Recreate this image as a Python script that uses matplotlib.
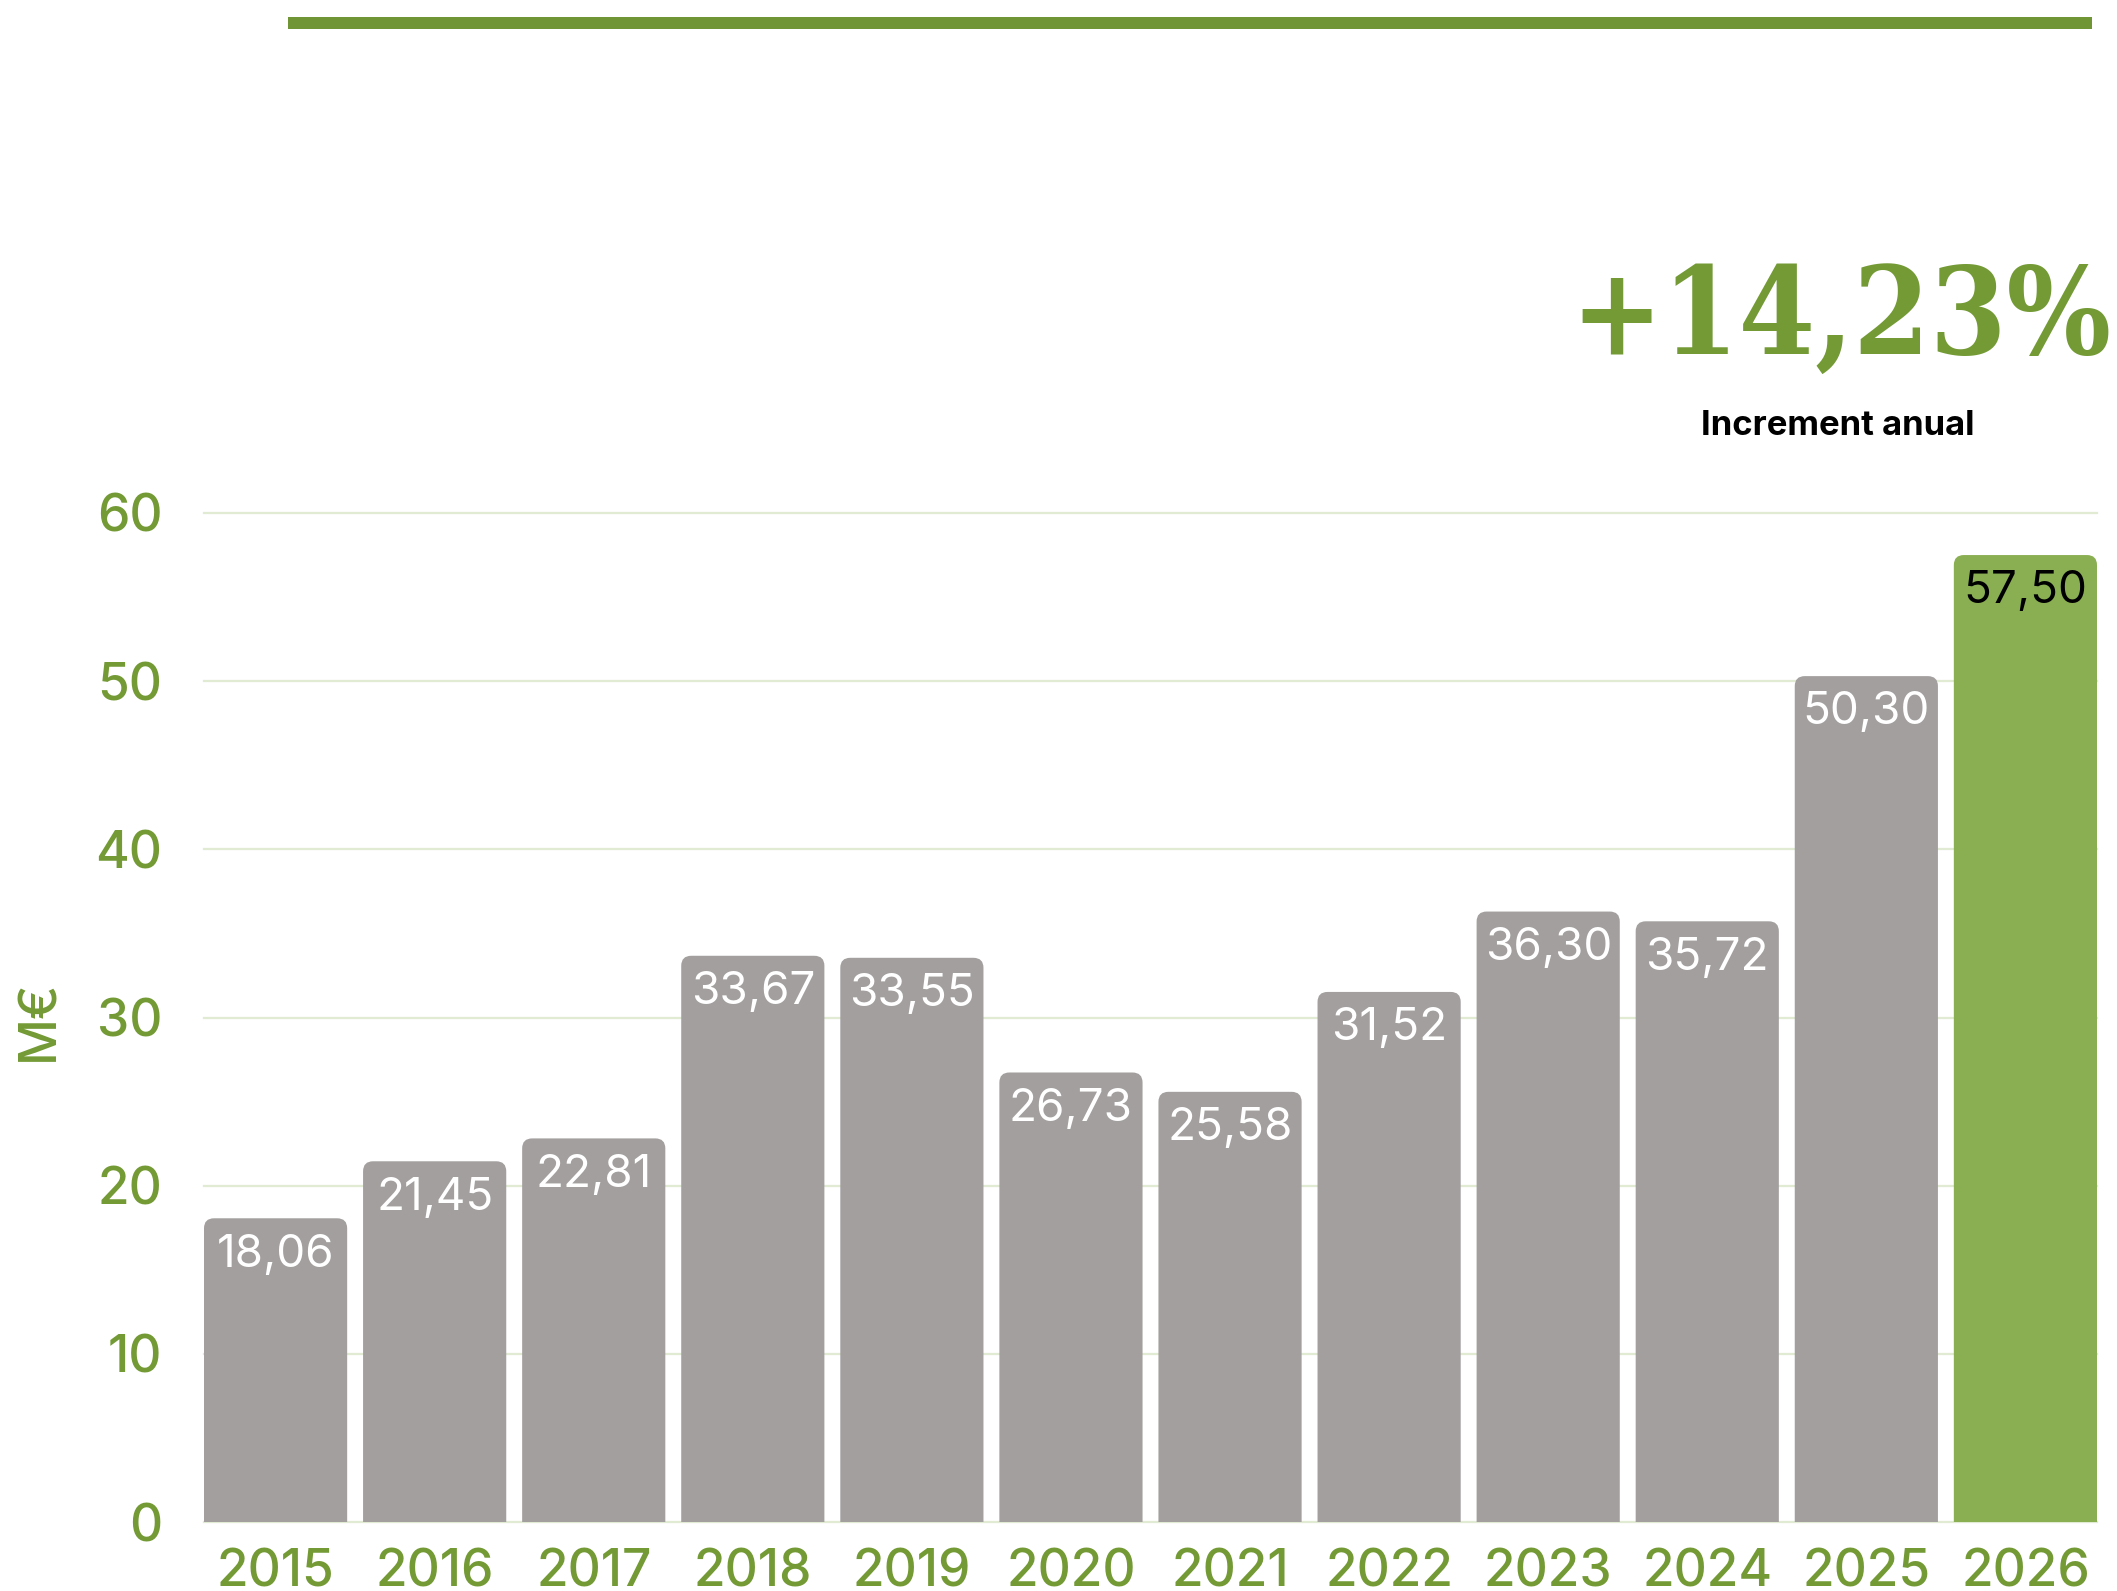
import matplotlib
matplotlib.use("Agg")
import matplotlib.pyplot as plt
from matplotlib.patches import FancyBboxPatch
from matplotlib.lines import Line2D

years = ["2015", "2016", "2017", "2018", "2019", "2020", "2021", "2022", "2023", "2024", "2025", "2026"]
values = [18.06, 21.45, 22.81, 33.67, 33.55, 26.73, 25.58, 31.52, 36.30, 35.72, 50.30, 57.50]
value_labels = ["18,06", "21,45", "22,81", "33,67", "33,55", "26,73", "25,58", "31,52", "36,30", "35,72", "50,30", "57,50"]
y_ticks = [0, 10, 20, 30, 40, 50, 60]
headline = "+14,23%"
subtitle = "Increment anual"
y_label = "M€"

GRAY = "#A29F9E"
GREEN_BAR = "#8AAF53"
GREEN_TXT = "#739A35"
GRID = "#E1EAD3"

W, H = 2117, 1591
fig = plt.figure(figsize=(W / 100, H / 100), dpi=100)
fig.patch.set_facecolor("white")

left, right = 204 / W, 2097 / W
bottom, top = 1 - 1522 / H, 1 - 513 / H
ax = fig.add_axes([left, bottom, right - left, top - bottom])

x = list(range(len(years)))
bars = ax.bar(x, values, width=0.9, color=GRAY, zorder=2)
colors = [GRAY] * (len(years) - 1) + [GREEN_BAR]

# rounded corners
px_per_x = (2097 - 204) / 11.9
px_per_y = (1522 - 513) / 60
r_px = 10
rx = r_px / px_per_x
ry = r_px / px_per_y
for b, c in zip(bars, colors):
    b.set_visible(False)
    bx, bw, bh = b.get_x(), b.get_width(), b.get_height()
    p = FancyBboxPatch((bx, -3), bw, bh + 3,
                       boxstyle=f"round,pad=0,rounding_size={rx}",
                       mutation_aspect=ry / rx, facecolor=c, edgecolor="none", zorder=2)
    ax.add_patch(p)

for i, (v, lab) in enumerate(zip(values, value_labels)):
    col = "black" if i == len(values) - 1 else "white"
    ax.annotate(lab, (i, v), xytext=(0, -11), textcoords="offset points",
                ha="center", va="top", fontsize=33, color=col,
                family="Inter", zorder=3)

ax.set_xlim(-0.45, 11.45)
ax.set_ylim(0, 60)
ax.set_yticks(y_ticks)
ax.set_yticklabels([str(t) for t in y_ticks])
ax.set_xticks(x)
ax.set_xticklabels(years)
ax.tick_params(axis="both", length=0, colors=GREEN_TXT, labelsize=37)
ax.tick_params(axis="y", pad=30)
ax.tick_params(axis="x", pad=19)
for lbl in ax.get_xticklabels() + ax.get_yticklabels():
    lbl.set_family("Inter")
    lbl.set_fontweight("medium")
ax.grid(axis="y", color=GRID, linewidth=1.6, zorder=0)
ax.set_axisbelow(True)
for gl in ax.get_ygridlines():
    gl.set_clip_on(False)
for s in ax.spines.values():
    s.set_visible(False)

fig.text(40 / W, 1 - 1020 / H, y_label, rotation=90, ha="center", va="center",
         fontsize=37, color=GREEN_TXT, family="Inter", fontweight="medium")

# top decorative line
fig.add_artist(Line2D([288 / W, 2092 / W], [1 - 23 / H, 1 - 23 / H],
                      transform=fig.transFigure, color="#6F9535", linewidth=12 * 0.72,
                      solid_capstyle="butt"))

fig.text(1841 / W, 1 - 354 / H, headline, ha="center", va="baseline",
         fontsize=88, fontweight="bold", family="DejaVu Serif", fontstretch="condensed",
         color="#739A35")
fig.text(1838 / W, 1 - 435 / H, subtitle, ha="center", va="baseline",
         fontsize=25, fontweight="bold", family="Inter", color="black")

fig.savefig("out.png", dpi=100)
